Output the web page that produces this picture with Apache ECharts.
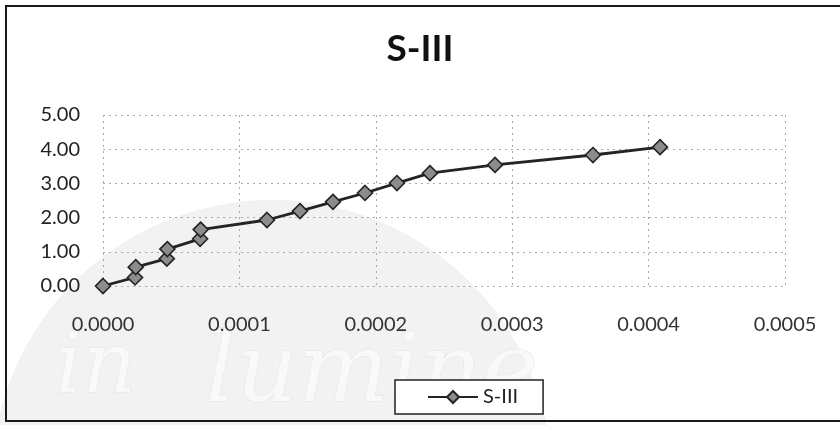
<!DOCTYPE html>
<html>
<head>
<meta charset="utf-8">
<script src="https://cdn.jsdelivr.net/npm/echarts@6/dist/echarts.min.js"></script>
<style>
  html, body { margin: 0; padding: 0; background: #ffffff; }
  #chart { width: 840px; height: 425px; }
</style>
</head>
<body>
<div id="chart"></div>
<script>
// Strain (x) vs. stress (y) readings for specimen S-III
const seriesName = 'S-III';
const strain = [0, 0.0000235, 0.0000240, 0.0000468, 0.0000472, 0.0000712, 0.0000716,
                0.0001202, 0.0001444, 0.0001686, 0.0001921, 0.0002155, 0.0002397,
                0.0002874, 0.0003592, 0.0004084];
const stress = [0, 0.25, 0.55, 0.80, 1.08, 1.38, 1.65,
                1.93, 2.19, 2.46, 2.72, 3.01, 3.30,
                3.54, 3.83, 4.06];
const xTicks = [0, 0.0001, 0.0002, 0.0003, 0.0004, 0.0005];
const yTicks = [0, 1, 2, 3, 4, 5];
const watermarkWords = ['in', 'lumine'];

const points = strain.map((x, i) => [x, stress[i]]);
const font = 'Lato, "Open Sans", "Liberation Sans", sans-serif';
const sealText = (text, left, size) => ({
  type: 'text',
  silent: true,
  z: -9,
  left: left,
  top: 328,
  style: {
    text: text,
    font: 'italic ' + size + 'px "DejaVu Serif", serif',
    fill: '#f9f9f9',
    stroke: '#e4e4e4',
    lineWidth: 1
  }
});

const chart = echarts.init(document.getElementById('chart'), null, { renderer: 'canvas' });
chart.setOption({
  backgroundColor: '#ffffff',
  animation: false,
  graphic: [
    {
      // faint seal behind the plot
      type: 'circle',
      silent: true,
      z: -10,
      shape: { cx: 272, cy: 480, r: 280 },
      style: { fill: '#f2f2f2' }
    },
    sealText(watermarkWords[0], 55, 84),
    sealText(watermarkWords[1], 205, 96),
    {
      type: 'rect',
      silent: true,
      z: 10,
      shape: { x: 6, y: 6, width: 900, height: 415 },
      style: { fill: 'none', stroke: '#1a1a1a', lineWidth: 2 }
    }
  ],
  title: {
    text: seriesName,
    left: 'center',
    top: 26,
    textStyle: { fontFamily: font, fontSize: 37, fontWeight: 'bold', color: '#111' }
  },
  grid: { left: 103, right: 55, top: 115, bottom: 139, containLabel: false },
  xAxis: {
    type: 'value',
    min: xTicks[0],
    max: xTicks[xTicks.length - 1],
    interval: xTicks[1] - xTicks[0],
    axisLine: { show: false },
    axisTick: { show: false },
    axisLabel: {
      margin: 29,
      fontFamily: font, fontSize: 20, color: '#333',
      formatter: v => v.toFixed(4)
    },
    splitLine: { show: true, lineStyle: { color: '#a8a8a8', width: 1, type: [2, 4] } }
  },
  yAxis: {
    type: 'value',
    min: yTicks[0],
    max: yTicks[yTicks.length - 1],
    interval: yTicks[1] - yTicks[0],
    axisLine: { show: false },
    axisTick: { show: false },
    axisLabel: {
      margin: 23,
      fontFamily: font, fontSize: 20, color: '#222',
      formatter: v => v.toFixed(2)
    },
    splitLine: { show: true, lineStyle: { color: '#a8a8a8', width: 1, type: [2, 4] } }
  },
  legend: {
    data: [seriesName],
    left: 395,
    top: 380,
    borderColor: '#222',
    borderWidth: 1.5,
    padding: [7, 25, 7, 32],
    itemWidth: 50,
    itemHeight: 15,
    itemGap: 6,
    backgroundColor: '#ffffff',
    textStyle: { fontFamily: font, fontSize: 20, color: '#222' }
  },
  series: [{
    name: seriesName,
    type: 'line',
    data: points,
    symbol: 'diamond',
    symbolSize: 15,
    lineStyle: { color: '#242424', width: 2.8 },
    itemStyle: { color: '#8c8c8c', borderColor: '#242424', borderWidth: 1.6 }
  }]
});
</script>
</body>
</html>
